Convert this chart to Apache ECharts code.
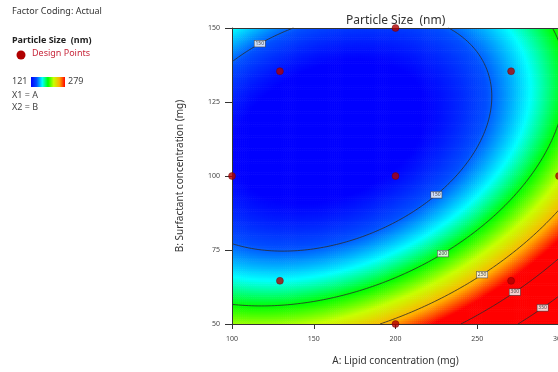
<!DOCTYPE html>
<html>
<head>
<meta charset="utf-8">
<script src="https://cdn.jsdelivr.net/npm/echarts@6/dist/echarts.min.js"></script>
<style>
  html, body { margin: 0; padding: 0; background: #fff; }
  #chart { width: 558px; height: 372px; }
</style>
</head>
<body>
<div id="chart"></div>
<script>
// fitted quadratic response surface, coded units x=(A-200)/100, y=(B-100)/50
// terms: const, A, B, AB, A^2, B^2 (estimated from the contour picture)
var modelCoefs = [124.5, 50.4, -58.9, -35.5, 49.7, 74.3];

// design points (A: lipid mg, B: surfactant mg)
var designA = [100, 129.3, 270.7, 200, 200, 300, 129.3, 270.7, 200];
var designB = [100, 135.4, 135.4, 150, 100, 100, 64.6, 64.6, 50];

// contour lines and where their labels sit
var contourLevels = [150, 200, 250, 300, 350];
var labelLevels = [150, 150, 200, 250, 300, 350];
var labelA = [117, 225, 229, 253, 273, 290];
var labelRoot = ['upper', 'lower', 'lower', 'lower', 'lower', 'lower'];

// colour scale range (from legend)
var colorMin = 121;
var colorMax = 279;
var rampColors = ['#0000ff', '#0050ff', '#00ffff', '#00ff00', '#c8ff00', '#ffb000', '#ff0000'];

var xTicks = [100, 150, 200, 250, 300];
var yTicks = [50, 75, 100, 125, 150];

function model(A, B) {
  var x = (A - 200) / 100, y = (B - 100) / 50;
  var c = modelCoefs;
  return c[0] + c[1] * x + c[2] * y + c[3] * x * y + c[4] * x * x + c[5] * y * y;
}

// solve the model for B at a given A and level
function solveB(A, L, which) {
  var c = modelCoefs;
  var x = (A - 200) / 100;
  var qa = c[5], qb = c[2] + c[3] * x, qc = c[0] + c[1] * x + c[4] * x * x - L;
  var d = Math.sqrt(Math.max(qb * qb - 4 * qa * qc, 0));
  var y = which === 'upper' ? (-qb + d) / (2 * qa) : (-qb - d) / (2 * qa);
  return 100 + y * 50;
}

// heat cells
var stepA = 1.25, stepB = 0.625;
var heat = [];
for (var a = 100 + stepA / 2; a < 300; a += stepA) {
  for (var b = 50 + stepB / 2; b < 150; b += stepB) {
    heat.push([a, b, model(a, b)]);
  }
}

// contour segments by marching squares
var gA = 2, gB = 1;
var segs = [];
contourLevels.forEach(function (L) {
  for (var a = 100; a < 300; a += gA) {
    for (var b = 50; b < 150; b += gB) {
      var corners = [[a, b], [a + gA, b], [a + gA, b + gB], [a, b + gB]];
      var vals = corners.map(function (p) { return model(p[0], p[1]); });
      var pts = [];
      for (var k = 0; k < 4; k++) {
        var k2 = (k + 1) % 4;
        if ((vals[k] < L) !== (vals[k2] < L)) {
          var t = (L - vals[k]) / (vals[k2] - vals[k]);
          pts.push([corners[k][0] + t * (corners[k2][0] - corners[k][0]),
                    corners[k][1] + t * (corners[k2][1] - corners[k][1])]);
        }
      }
      if (pts.length >= 2) segs.push([pts[0][0], pts[0][1], pts[1][0], pts[1][1]]);
      if (pts.length === 4) segs.push([pts[2][0], pts[2][1], pts[3][0], pts[3][1]]);
    }
  }
});

var labels = labelLevels.map(function (L, i) {
  return [labelA[i], solveB(labelA[i], L, labelRoot[i]), L];
});

var points = designA.map(function (a, i) { return [a, designB[i]]; });

var chart = echarts.init(document.getElementById('chart'));

var font = 'Noto Sans';

var option = {
  animation: false,
  textStyle: { fontFamily: font },
  title: {
    text: 'Particle Size  (nm)',
    left: 341,
    top: 10,
    textStyle: { fontSize: 12, fontWeight: 'normal', color: '#333', fontFamily: font }
  },
  grid: { left: 232, top: 28, right: -1, bottom: 48, outerBoundsMode: 'none', containLabel: false },
  xAxis: [{
    type: 'value', min: 100, max: 300, interval: 50, z: 5,
    axisLine: { lineStyle: { color: '#333', width: 1 } },
    axisTick: { length: 5, lineStyle: { color: '#333' } },
    axisLabel: { fontSize: 7, color: '#444', margin: 11 },
    splitLine: { show: false },
    name: 'A: Lipid concentration (mg)',
    nameLocation: 'middle', nameGap: 32,
    nameTextStyle: { fontSize: 10, color: '#333' }
  }, {
    type: 'value', min: 100, max: 300, position: 'top', z: 5,
    axisLine: { lineStyle: { color: '#333', width: 1 } },
    axisTick: { show: false }, axisLabel: { show: false }, splitLine: { show: false }
  }],
  yAxis: {
    type: 'value', min: 50, max: 150, interval: 25, z: 5,
    axisLine: { show: true, lineStyle: { color: '#333', width: 1 } },
    axisTick: { show: true, length: 7, lineStyle: { color: '#333' } },
    axisLabel: { fontSize: 7, color: '#444', margin: 12 },
    splitLine: { show: false },
    name: 'B: Surfactant concentration (mg)',
    nameLocation: 'middle', nameGap: 47,
    nameTextStyle: { fontSize: 10, color: '#333' }
  },
  visualMap: {
    type: 'continuous',
    show: false,
    seriesIndex: 0, dimension: 2,
    min: colorMin, max: colorMax,
    inRange: { color: rampColors }
  },
  graphic: [
    { type: 'text', left: 12, top: 7, style: { text: 'Factor Coding: Actual', font: '9px "Noto Sans"', fill: '#333' } },
    { type: 'text', left: 12, top: 36, style: { text: 'Particle Size  (nm)', font: 'bold 9px "Noto Sans"', fill: '#222' } },
    { type: 'circle', shape: { cx: 21, cy: 55, r: 4.5 }, style: { fill: '#b00000' } },
    { type: 'text', left: 32, top: 49, style: { text: 'Design Points', font: '9px "Noto Sans"', fill: '#c8283c' } },
    { type: 'text', left: 12, top: 77, style: { text: String(colorMin), font: '9px "Noto Sans"', fill: '#444' } },
    {
      type: 'rect', shape: { x: 31, y: 77, width: 34, height: 10 },
      style: {
        fill: new echarts.graphic.LinearGradient(0, 0, 1, 0, rampColors.map(function (c, i) {
          return { offset: i / (rampColors.length - 1), color: c };
        }))
      }
    },
    { type: 'text', left: 68, top: 77, style: { text: String(colorMax), font: '9px "Noto Sans"', fill: '#444' } },
    { type: 'text', left: 12, top: 91, style: { text: 'X1 = A', font: '9px "Noto Sans"', fill: '#444' } },
    { type: 'text', left: 12, top: 103, style: { text: 'X2 = B', font: '9px "Noto Sans"', fill: '#444' } }
  ],
  series: [{
    type: 'custom',
    silent: true,
    z: 1,
    progressive: 0,
    data: heat,
    renderItem: function (params, api) {
      var a = api.value(0), b = api.value(1);
      var p0 = api.coord([a - stepA / 2, b + stepB / 2]);
      var p1 = api.coord([a + stepA / 2, b - stepB / 2]);
      return {
        type: 'rect',
        shape: { x: p0[0], y: p0[1], width: p1[0] - p0[0] + 0.6, height: p1[1] - p0[1] + 0.6 },
        style: { fill: api.visual('color') }
      };
    }
  }, {
    type: 'custom',
    silent: true,
    z: 3,
    progressive: 0,
    data: segs,
    renderItem: function (params, api) {
      var p = api.coord([api.value(0), api.value(1)]);
      var q = api.coord([api.value(2), api.value(3)]);
      return {
        type: 'line',
        shape: { x1: p[0], y1: p[1], x2: q[0], y2: q[1] },
        style: { stroke: '#2b2b2b', lineWidth: 0.8 }
      };
    }
  }, {
    type: 'scatter',
    silent: true,
    z: 4,
    data: labels,
    symbol: 'rect',
    symbolSize: 0,
    itemStyle: { color: 'transparent' },
    label: {
      show: true, position: 'inside',
      formatter: function (p) { return String(p.value[2]); },
      fontSize: 5, color: '#222', fontFamily: font,
      backgroundColor: '#fff', borderColor: '#444', borderWidth: 0.6,
      padding: [1, 1, 0, 1]
    }
  }, {
    type: 'scatter',
    silent: true,
    z: 5,
    clip: false,
    data: points,
    symbol: 'circle',
    symbolSize: 7,
    itemStyle: { color: '#b00000', borderColor: '#6a0000', borderWidth: 0.5 }
  }]
};

chart.setOption(option);
</script>
</body>
</html>
